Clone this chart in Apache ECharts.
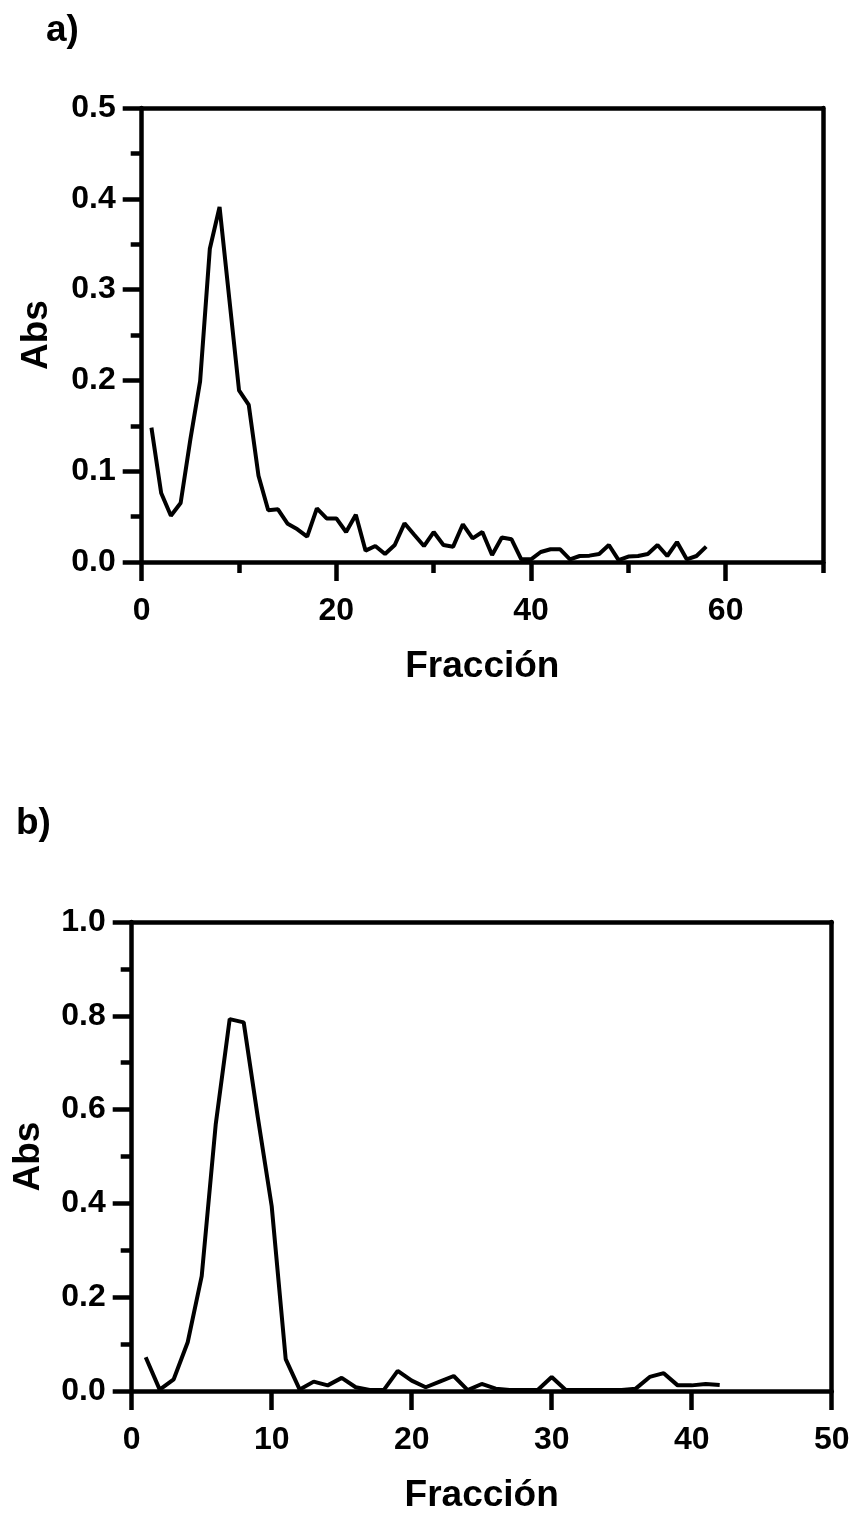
<!DOCTYPE html>
<html>
<head>
<meta charset="utf-8">
<script src="https://cdn.jsdelivr.net/npm/echarts@6/dist/echarts.min.js"></script>
<style>
html,body{margin:0;padding:0;background:#fff;}
#chart{width:862px;height:1515px;}
</style>
</head>
<body>
<div id="chart"></div>
<script>
// Panel a)
const fractionA = [1,2,3,4,5,6,7,8,9,10,11,12,13,14,15,16,17,18,19,20,21,22,23,24,25,26,27,28,29,30,31,32,33,34,35,36,37,38,39,40,41,42,43,44,45,46,47,48,49,50,51,52,53,54,55,56,57,58];
const absA = [0.148,0.076,0.051,0.065,0.135,0.199,0.345,0.391,0.29,0.189,0.173,0.095,0.057,0.058,0.042,0.036,0.028,0.059,0.048,0.048,0.033,0.052,0.0125,0.0176,0.0088,0.0187,0.0426,0.030,0.0176,0.033,0.0187,0.0169,0.0415,0.026,0.033,0.0077,0.027,0.025,0.003,0.003,0.011,0.014,0.014,0.003,0.0066,0.007,0.0088,0.0187,0.002,0.006,0.0066,0.0088,0.0187,0.0066,0.022,0.003,0.0066,0.017];
const xTicksA = [0,20,40,60];
const xMinorTicksA = [10,30,50,70];
// Panel b)
const fractionB = [1,2,3,4,5,6,7,8,9,10,11,12,13,14,15,16,17,18,19,20,21,22,23,24,25,26,27,28,29,30,31,32,33,34,35,36,37,38,39,40,41,42];
const absB = [0.072,0.003,0.025,0.104,0.245,0.568,0.793,0.786,0.585,0.394,0.068,0.003,0.02,0.012,0.028,0.008,0.002,0.002,0.043,0.022,0.008,0.02,0.032,0.002,0.015,0.005,0.002,0.002,0.002,0.03,0.002,0.002,0.002,0.002,0.002,0.005,0.03,0.038,0.012,0.012,0.015,0.013];
const xTicksB = [0,10,20,30,40,50];

const panelLabels = ['a)', 'b)'];
const xName = 'Fracción';
const yName = 'Abs';

const FONT = '"Liberation Sans", Arial, sans-serif';
const AX = 4.5;
const lblStyle = {color:'#000', fontFamily:FONT, fontWeight:'bold', fontSize:32};
const nameStyle = {color:'#000', fontFamily:FONT, fontWeight:'bold', fontSize:37};

function mainX(grid, max, interval, ticks){
  return {
    type:'value', gridIndex:grid, position:'bottom', min:0, max:max, interval:interval,
    name:xName, nameLocation:'middle', nameGap:86, nameTextStyle:nameStyle,
    axisLine:{show:true, onZero:false, lineStyle:{color:'#000', width:AX}},
    axisTick:{show:true, length:19, customValues:ticks, lineStyle:{color:'#000', width:AX}},
    axisLabel:Object.assign({margin:33, customValues:ticks}, lblStyle),
    splitLine:{show:false}
  };
}
function minorX(grid, max, ticks){
  return {
    type:'value', gridIndex:grid, position:'bottom', offset:0, min:0, max:max,
    axisLine:{show:false, onZero:false},
    axisTick:{show:true, length:11, customValues:ticks, lineStyle:{color:'#000', width:AX}},
    axisLabel:{show:false}, splitLine:{show:false}
  };
}
function mainY(grid, max, interval, gap){
  return {
    type:'value', gridIndex:grid, min:0, max:max, interval:interval,
    name:yName, nameLocation:'middle', nameGap:gap, nameTextStyle:nameStyle,
    axisLine:{show:true, onZero:false, lineStyle:{color:'#000', width:AX}},
    axisTick:{show:true, length:19, lineStyle:{color:'#000', width:AX}},
    minorTick:{show:true, splitNumber:2, length:11, lineStyle:{color:'#000', width:AX}},
    axisLabel:Object.assign({margin:26, formatter:v=>v.toFixed(1)}, lblStyle),
    splitLine:{show:false}, minorSplitLine:{show:false}
  };
}
function frameX(grid, max){
  return {type:'value', gridIndex:grid, position:'top', min:0, max:max,
    axisLine:{show:true, onZero:false, lineStyle:{color:'#000', width:AX}},
    axisTick:{show:false}, axisLabel:{show:false}, splitLine:{show:false}};
}
function frameY(grid, max){
  return {type:'value', gridIndex:grid, position:'right', min:0, max:max,
    axisLine:{show:true, onZero:false, lineStyle:{color:'#000', width:AX}},
    axisTick:{show:false}, axisLabel:{show:false}, splitLine:{show:false}};
}

const chart = echarts.init(document.getElementById('chart'), null, {renderer:'canvas'});
chart.setOption({
  backgroundColor:'#fff',
  animation:false,
  title:[
    {text:panelLabels[0], left:41, top:7, textStyle:{color:'#000', fontFamily:FONT, fontWeight:'bold', fontSize:37}},
    {text:panelLabels[1], left:11, top:800, textStyle:{color:'#000', fontFamily:FONT, fontWeight:'bold', fontSize:37}}
  ],
  grid:[
    {left:141.7, top:108, width:681.3, height:454},
    {left:131.7, top:922, width:700, height:470}
  ],
  xAxis:[ mainX(0,70,10,xTicksA), mainX(1,50,10,xTicksB), frameX(0,70), frameX(1,50), minorX(0,70,xMinorTicksA) ],
  yAxis:[ mainY(0,0.5,0.1,86), mainY(1,1.0,0.2,84), frameY(0,0.5), frameY(1,1.0) ],
  series:[
    {type:'line', xAxisIndex:0, yAxisIndex:0, showSymbol:false, symbol:'none',
     lineStyle:{color:'#000', width:4}, data:fractionA.map((f,i)=>[f,absA[i]])},
    {type:'line', xAxisIndex:1, yAxisIndex:1, showSymbol:false, symbol:'none',
     lineStyle:{color:'#000', width:4}, data:fractionB.map((f,i)=>[f,absB[i]])}
  ]
});
</script>
</body>
</html>
